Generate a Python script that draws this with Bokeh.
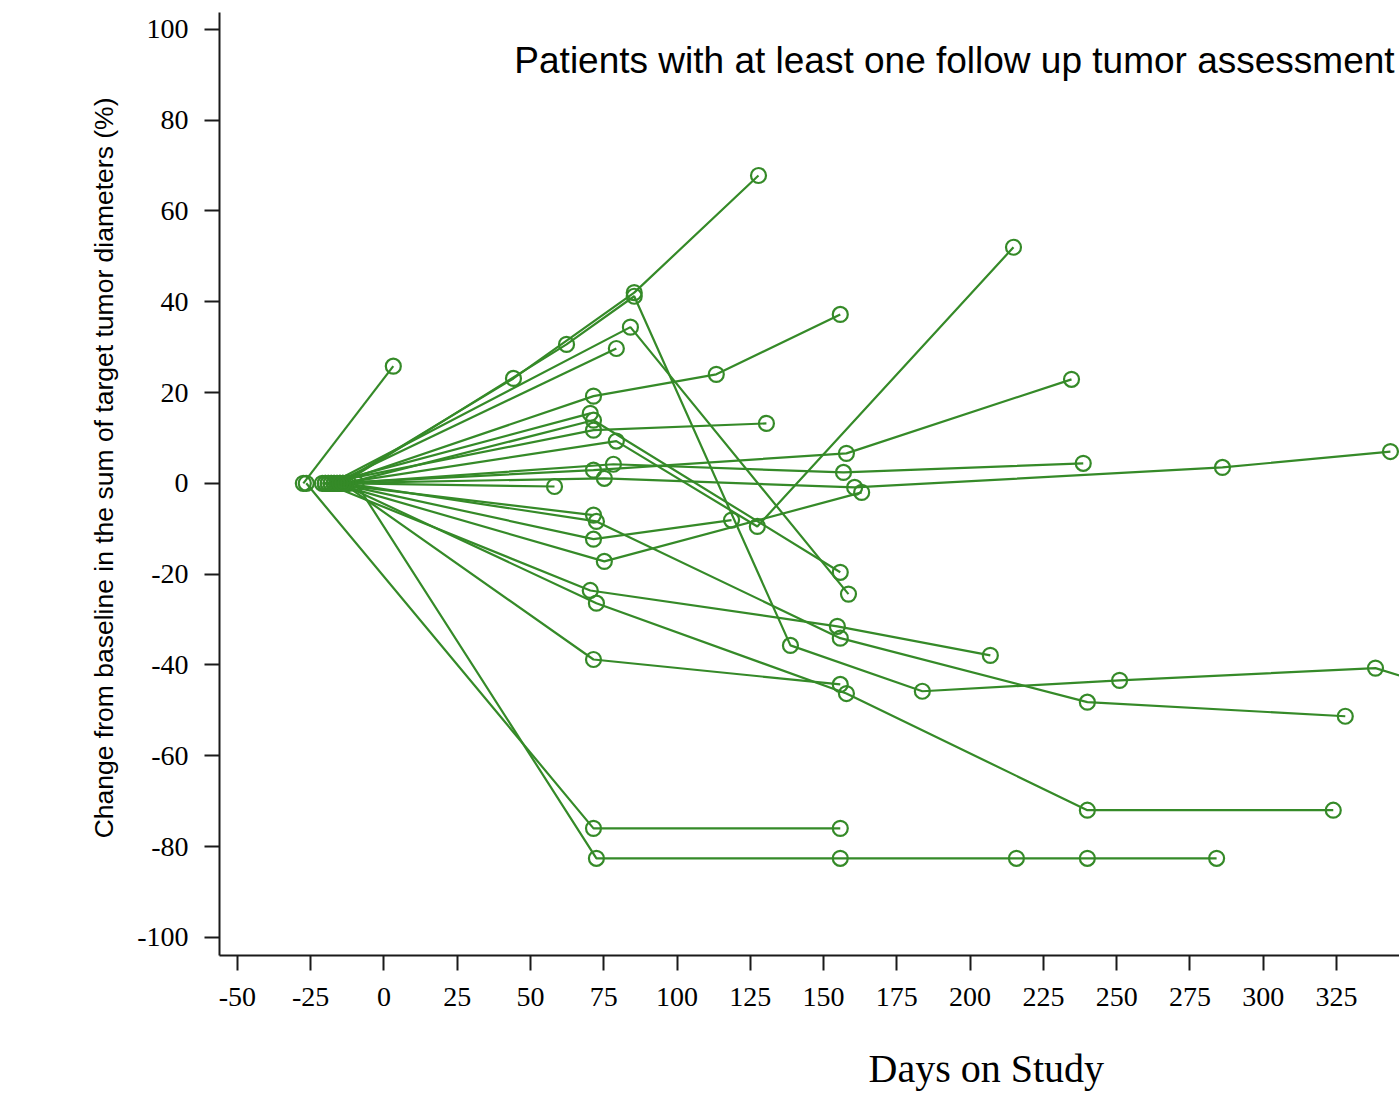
from bokeh.plotting import figure
from bokeh.models import Range1d, FixedTicker, Label, Title
from bokeh.embed import file_html
from bokeh.resources import INLINE

# ---- data: days on study / % change from baseline, one pair per patient ----
p01_days = [-27.5, 3.2]
p01_chg = [0, 25.8]
p02_days = [-26.5, 71.5, 155.7]
p02_chg = [0, -76.0, -76.0]
p03_days = [-9.5, 72.5, 155.7, 215.8, 240.0, 284.1]
p03_chg = [0, -82.6, -82.6, -82.6, -82.6, -82.6]
p04_days = [-15, 44.2, 85.4, 127.8]
p04_chg = [0, 23.1, 42.0, 67.8]
p05_days = [-14, 62.3, 85.4, 138.7, 183.7, 251.0, 338.3, 360.0]
p05_chg = [0, 30.6, 41.2, -35.7, -45.8, -43.4, -40.7, -45.0]
p06_days = [-18, 84.1, 158.5]
p06_chg = [0, 34.4, -24.4]
p07_days = [-17, 79.3]
p07_chg = [0, 29.7]
p08_days = [-16, 71.5, 113.4, 155.7]
p08_chg = [0, 19.2, 24.0, 37.2]
p09_days = [-19, 70.4]
p09_chg = [0, 15.4]
p10_days = [-13, 71.5, 155.7]
p10_chg = [0, 13.9, -19.6]
p11_days = [-20, 71.5, 130.5]
p11_chg = [0, 11.7, 13.2]
p12_days = [-15, 79.3, 127.4, 214.8]
p12_chg = [0, 9.3, -9.5, 52.0]
p13_days = [-18, 71.5, 157.8, 234.6]
p13_chg = [0, 2.9, 6.6, 22.9]
p14_days = [-14, 78.3, 156.8, 238.6]
p14_chg = [0, 4.2, 2.4, 4.4]
p15_days = [-21, 75.2, 160.6, 286.1, 343.4]
p15_chg = [0, 1.1, -0.9, 3.5, 7.0]
p16_days = [-12, 58.2]
p16_chg = [0, -0.7]
p17_days = [-17, 75.2, 163.0]
p17_chg = [0, -17.2, -2.0]
p18_days = [-16, 71.5, 118.6]
p18_chg = [0, -12.3, -8.1]
p19_days = [-19, 71.5]
p19_chg = [0, -7.0]
p20_days = [-13, 72.5, 155.7, 240.0, 328.0]
p20_chg = [0, -8.4, -34.1, -48.2, -51.3]
p21_days = [-20, 70.4, 154.7, 206.9]
p21_chg = [0, -23.6, -31.5, -37.9]
p22_days = [-15, 72.5, 157.8, 240.0, 323.9]
p22_chg = [0, -26.4, -46.3, -72.0, -72.0]
p23_days = [-14, 71.5, 155.7]
p23_chg = [0, -38.8, -44.3]

x_ticks = [-50, -25, 0, 25, 50, 75, 100, 125, 150, 175, 200, 225, 250, 275, 300, 325, 350]
x_tick_labels = ["-50", "-25", "0", "25", "50", "75", "100", "125", "150", "175",
                 "200", "225", "250", "275", "300", "325", "350"]
y_ticks = [-100, -80, -60, -40, -20, 0, 20, 40, 60, 80, 100]
y_tick_labels = ["-100", "-80", "-60", "-40", "-20", "0", "20", "40", "60", "80", "100"]

title_text = "Patients with at least one follow up tumor assessment"
x_label = "Days on Study"
y_label = "Change from baseline in the sum of target tumor diameters (%)"

all_days = [p01_days, p02_days, p03_days, p04_days, p05_days, p06_days, p07_days, p08_days,
            p09_days, p10_days, p11_days, p12_days, p13_days, p14_days, p15_days, p16_days,
            p17_days, p18_days, p19_days, p20_days, p21_days, p22_days, p23_days]
all_chg = [p01_chg, p02_chg, p03_chg, p04_chg, p05_chg, p06_chg, p07_chg, p08_chg,
           p09_chg, p10_chg, p11_chg, p12_chg, p13_chg, p14_chg, p15_chg, p16_chg,
           p17_chg, p18_chg, p19_chg, p20_chg, p21_chg, p22_chg, p23_chg]

GREEN = "#358a28"

p = figure(width=1399, height=1094, output_backend="svg", toolbar_location=None,
           x_range=Range1d(-56.1, 346.5), y_range=Range1d(-104.0, 103.7),
           min_border_left=219, min_border_right=0, min_border_top=12, min_border_bottom=139)
p.background_fill_color = "white"
p.border_fill_color = "white"
p.outline_line_color = None
p.grid.visible = False

p.multi_line(xs=all_days, ys=all_chg, line_color=GREEN, line_width=2.2)
flat_x = [v for d in all_days for v in d]
flat_y = [v for c in all_chg for v in c]
p.scatter(flat_x, flat_y, marker="circle", size=15, fill_color=None,
          line_color=GREEN, line_width=2.2)

for ax in (p.xaxis[0], p.yaxis[0]):
    ax.axis_line_width = 2
    ax.axis_line_color = "#1a1a1a"
    ax.major_tick_line_width = 2
    ax.major_tick_line_color = "#1a1a1a"
    ax.major_tick_out = 15
    ax.major_tick_in = 0
    ax.minor_tick_line_color = None
    ax.major_label_text_font = "Liberation Serif"
    ax.major_label_text_font_size = "28px"
    ax.major_label_text_color = "black"

p.xaxis[0].ticker = FixedTicker(ticks=x_ticks)
p.xaxis[0].major_label_overrides = {t: s for t, s in zip(x_ticks, x_tick_labels)}
p.xaxis[0].major_label_standoff = 17
# spacer so that the "Days on Study" title sits low, as in the reference
p.xaxis[0].axis_label = " "
p.xaxis[0].axis_label_text_font_size = "1px"
p.xaxis[0].axis_label_standoff = 27
p.yaxis[0].ticker = FixedTicker(ticks=y_ticks)
p.yaxis[0].major_label_overrides = {t: s for t, s in zip(y_ticks, y_tick_labels)}
p.yaxis[0].major_label_standoff = 16

p.add_layout(Title(text=y_label, align="right", offset=85, standoff=31,
                   text_font="Liberation Sans", text_font_style="normal",
                   text_font_size="26.5px", text_color="black"), "left")
p.add_layout(Title(text=x_label, align="left", offset=649, standoff=8,
                   text_font="Liberation Serif", text_font_style="normal",
                   text_font_size="40px", text_color="black"), "below")

p.add_layout(Label(x=44.5, y=93.2, text=title_text, text_font="Liberation Sans",
                   text_font_size="37px", text_color="black", text_align="left",
                   text_baseline="middle"))

open("out.html", "w").write(file_html(p, INLINE))
